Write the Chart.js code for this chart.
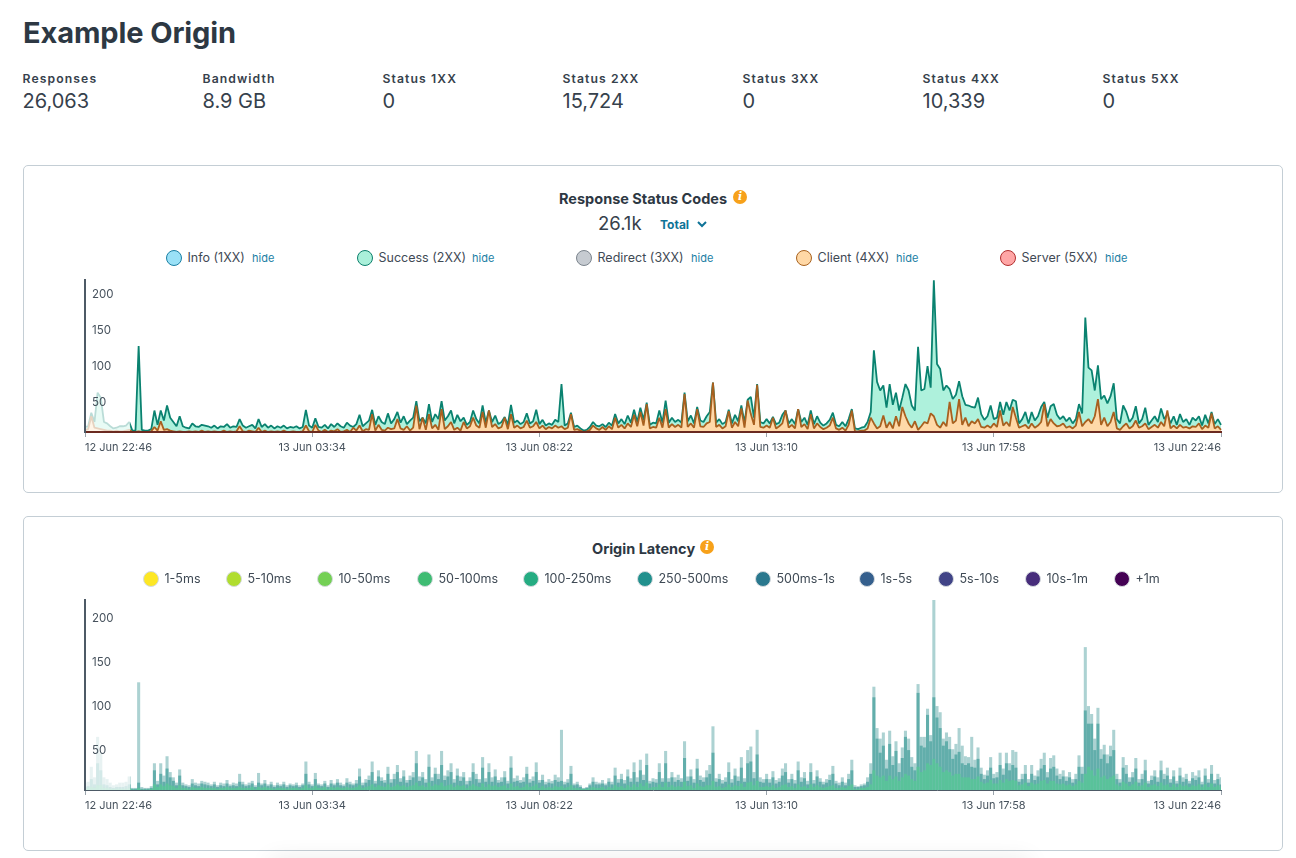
<!DOCTYPE html>
<html>
<head>
<meta charset="utf-8">
<title>Example Origin</title>
<script src="https://cdn.jsdelivr.net/npm/chart.js@4"></script>
<style>
  html, body { margin: 0; padding: 0; background: #fff; overflow: hidden; }
  body { width: 1296px; height: 858px; position: relative; font-family: Inter, "Noto Sans", sans-serif; color: #2d3843; }
  .abs { position: absolute; white-space: nowrap; transform: translateY(-50%); }
  .card { position: absolute; left: 23px; width: 1258px; border: 1px solid #c4ced5; border-radius: 5px; box-sizing: content-box; }
  .statLabel { font-size: 12.2px; font-weight: 600; letter-spacing: 1.1px; color: #36414c; }
  .statValue { font-size: 20px; color: #36414c; }
  .chartTitle { font-size: 14.5px; font-weight: 700; color: #2d3843; }
  .legendText { font-size: 12.5px; color: #3f4a55; }
  .hide { font-size: 11px; color: #1b7ea4; }
  .dot { position: absolute; width: 14px; height: 14px; border-radius: 50%; border: 1px solid; transform: translate(-50%, -50%); }
  .info { position: absolute; width: 14px; height: 14px; border-radius: 50%; background: #f7a11a; color: #fff; font: italic 700 11px/14px "DejaVu Serif", serif; text-align: center; transform: translate(-50%, -50%); }
  canvas { position: absolute; }
</style>
</head>
<body>
<div class="abs" style="left:23px;top:31.5px;font-size:29px;font-weight:700;color:#2d3843;letter-spacing:-0.1px">Example Origin</div>

<div class="card" style="top:165px;height:326px"></div>
<div class="card" style="top:515.5px;height:333px"></div>

<div class="abs chartTitle" style="left:559px;top:197.5px">Response Status Codes</div>
<div class="info" style="left:740px;top:197px">i</div>
<div class="abs" style="left:598px;top:223px;font-size:18.5px;color:#36414c">26.1k</div>
<div class="abs" style="left:660px;top:224px;font-size:12px;font-weight:700;color:#0f7397">Total</div>
<svg style="position:absolute;left:696px;top:220px" width="12" height="9"><path d="M2 2 L6 6 L10 2" fill="none" stroke="#0f7397" stroke-width="2"/></svg>

<div class="abs chartTitle" style="left:592px;top:548px">Origin Latency</div>
<div class="info" style="left:707px;top:547px">i</div>

<canvas id="statusChart" width="1200" height="204" style="left:60px;top:266px;width:1200px;height:204px"></canvas>
<canvas id="latencyChart" width="1200" height="242" style="left:60px;top:586px;width:1200px;height:242px"></canvas>

<div style="position:absolute;left:270px;top:862px;width:760px;height:10px;box-shadow:0 0 24px rgba(0,0,0,.14)"></div>

<script>
// header numbers
const statLabels = ['Responses', 'Bandwidth', 'Status 1XX', 'Status 2XX', 'Status 3XX', 'Status 4XX', 'Status 5XX'];
const statValues = ['26,063', '8.9 GB', '0', '15,724', '0', '10,339', '0'];

// legends
const statusNames = ['Info (1XX)', 'Success (2XX)', 'Redirect (3XX)', 'Client (4XX)', 'Server (5XX)'];
const latencyNames = ['1-5ms', '5-10ms', '10-50ms', '50-100ms', '100-250ms', '250-500ms', '500ms-1s', '1s-5s', '5s-10s', '10s-1m', '+1m'];

// axis ticks
const timeTicks = ['12 Jun 22:46', '13 Jun 03:34', '13 Jun 08:22', '13 Jun 13:10', '13 Jun 17:58', '13 Jun 22:46'];
const yTicks = [50, 100, 150, 200];

// responses per 4 minute bucket
const success2xx = [
  7,8,27,14,55,48,14,12,8,5,
  6,8,8,9,14,2,2,120,3,2,
  2,4,30,10,30,16,37,20,14,8,
  22,8,6,5,12,8,7,10,9,8,
  6,9,5,8,7,11,6,8,7,18,
  9,6,8,10,5,18,7,11,6,9,
  5,8,6,9,5,7,6,8,5,7,
  31,9,6,19,7,6,10,5,11,7,
  12,8,6,13,9,7,11,24,8,12,
  16,31,10,22,14,11,26,12,18,28,
  13,22,11,16,20,43,15,20,12,39,
  14,25,18,43,16,22,30,12,24,15,
  20,10,14,30,18,12,37,13,30,14,
  23,11,14,21,10,38,13,16,11,14,
  26,12,15,31,11,17,9,12,10,17,
  14,67,9,12,27,7,9,5,2,3,
  7,14,9,8,11,7,13,9,25,12,
  18,11,23,13,31,14,34,17,41,10,
  13,12,30,13,44,13,20,14,17,13,
  55,15,23,12,35,16,14,22,28,69,
  13,18,11,14,31,12,24,15,37,13,
  45,49,20,67,14,12,18,12,21,11,
  13,24,30,12,18,11,32,14,20,10,
  30,11,22,13,9,12,17,27,10,8,
  14,8,18,32,5,4,6,7,14,28,
  114,70,58,65,34,67,38,55,30,48,
  67,58,37,30,119,58,60,92,62,212,
  95,88,58,65,60,46,52,71,50,38,
  37,35,34,48,25,17,22,37,18,20,
  42,24,42,30,45,43,12,18,28,12,
  28,16,22,35,42,20,36,39,24,18,
  22,15,20,12,18,39,26,160,90,86,
  58,93,46,51,40,50,68,18,12,37,
  28,14,20,36,12,18,34,10,16,22,
  14,33,18,25,12,22,10,25,14,18,
  10,20,16,22,9,24,12,28,11,18,
  10
];
const client4xx = [
  3,4,22,6,5,4,3,2,2,1,
  2,1,1,2,3,0,0,1,0,0,
  0,1,7,2,15,3,4,2,1,0,
  1,0,0,1,0,1,0,2,0,1,
  0,1,0,0,2,0,1,0,1,8,
  1,0,2,1,0,6,0,2,0,1,
  0,1,0,2,0,0,1,0,0,1,
  9,1,0,10,2,0,3,0,2,1,
  4,0,1,3,0,6,2,9,1,4,
  3,25,2,10,3,2,6,4,5,18,
  5,3,8,2,6,37,4,20,3,25,
  5,10,3,32,4,8,14,3,6,2,
  14,5,8,20,9,6,28,6,30,7,
  11,5,7,20,4,25,6,9,5,7,
  16,6,8,14,5,9,4,7,5,9,
  6,8,4,6,25,3,4,2,0,1,
  3,9,5,3,7,3,8,4,20,6,
  10,5,12,7,24,8,28,9,39,5,
  7,6,20,6,32,6,11,7,10,6,
  53,7,12,6,32,8,7,12,14,69,
  7,10,5,8,29,6,14,8,33,6,
  44,25,10,66,7,6,9,6,20,5,
  8,12,30,6,10,5,32,7,11,4,
  25,5,12,7,4,6,9,20,5,3,
  6,2,10,30,1,1,2,2,5,20,
  12,5,8,23,6,14,5,22,8,35,
  22,12,6,15,3,8,14,12,26,22,
  10,6,14,8,42,12,16,46,10,20,
  8,15,12,18,7,6,9,6,12,7,
  30,9,14,8,35,20,6,8,10,5,
  12,6,9,14,39,8,18,12,8,9,
  12,6,8,5,9,28,8,14,18,12,
  22,46,10,20,8,14,28,5,3,8,
  12,5,8,16,6,8,12,4,7,10,
  6,14,8,30,5,9,5,10,6,7,
  5,8,7,12,4,9,6,26,5,8,
  3
];

// latency buckets, drawn on top of each other
const latencySlow = [
  8,9,26,14,60,42,14,12,8,5,
  6,8,8,9,15,2,2,122,3,2,
  2,4,30,10,30,16,38,20,14,8,
  23,8,6,5,12,8,7,10,9,8,
  6,9,5,8,7,11,6,8,7,18,
  9,6,8,10,5,19,7,11,6,9,
  5,8,6,9,5,7,6,8,5,7,
  32,9,6,19,7,6,10,5,11,7,
  12,8,6,13,9,7,11,24,8,12,
  16,32,10,22,14,11,26,12,18,28,
  13,22,11,16,20,44,15,20,12,40,
  14,25,18,44,16,22,30,12,24,15,
  20,10,14,30,18,12,37,13,30,14,
  23,11,14,21,10,38,13,16,11,14,
  26,12,15,31,11,17,9,12,10,17,
  14,68,9,12,27,7,9,5,2,3,
  7,14,9,8,11,7,13,9,25,12,
  18,11,23,13,31,14,34,17,41,10,
  13,12,30,13,44,13,20,14,17,13,
  55,15,23,12,35,16,14,22,28,72,
  13,18,11,14,31,12,24,15,37,13,
  45,49,20,68,14,12,18,12,21,11,
  13,24,30,12,18,11,32,14,20,10,
  30,11,22,13,9,12,17,27,10,8,
  14,8,18,34,5,4,6,7,14,30,
  117,70,58,65,34,67,38,55,30,48,
  67,58,37,30,120,60,60,92,62,216,
  95,88,58,65,60,46,52,70,50,38,
  37,60,34,48,25,17,22,37,18,20,
  42,24,42,30,45,43,12,18,28,12,
  28,16,22,35,42,20,36,39,24,18,
  22,15,20,12,18,39,26,162,95,86,
  58,93,46,51,40,50,68,18,12,37,
  28,14,20,36,12,18,34,10,16,22,
  14,33,18,25,12,22,10,25,14,18,
  10,20,16,22,9,24,12,28,11,18,
  14
];
const latency250 = [
  3,4,12,6,30,22,6,5,3,2,
  3,3,3,4,6,1,1,8,1,1,
  1,2,22,6,18,9,24,14,10,5,
  16,5,4,3,7,5,4,7,6,5,
  4,6,3,5,4,7,4,5,4,9,
  6,4,5,7,3,8,5,7,4,6,
  3,5,4,6,3,5,4,5,3,5,
  18,6,4,12,5,4,7,3,7,5,
  8,5,4,8,6,5,7,15,5,8,
  11,20,7,15,10,8,18,8,12,20,
  9,15,8,11,14,30,10,14,8,26,
  10,18,12,28,11,15,20,8,16,10,
  14,6,10,20,12,8,25,9,20,9,
  15,8,9,14,7,25,9,10,8,9,
  18,8,10,20,8,11,6,8,7,11,
  9,10,6,8,18,5,6,3,1,2,
  5,9,6,6,7,5,9,6,16,8,
  12,7,15,9,20,9,22,11,28,7,
  9,8,20,9,30,9,14,9,11,9,
  36,10,15,8,24,11,9,14,18,42,
  9,12,7,9,20,8,16,10,25,9,
  30,32,13,40,9,8,12,8,14,7,
  9,16,20,8,12,7,22,9,13,6,
  20,7,15,9,6,8,11,18,7,5,
  9,5,12,22,3,3,4,5,9,18,
  105,58,42,50,24,52,28,44,20,36,
  60,45,26,22,110,50,48,85,55,105,
  82,70,50,55,46,35,40,43,30,28,
  30,26,25,35,18,12,16,25,13,14,
  28,17,30,22,28,25,9,12,18,8,
  18,11,15,24,28,14,24,26,16,12,
  15,10,14,8,12,26,18,90,75,75,
  45,75,35,40,30,38,45,12,8,25,
  18,9,14,24,8,12,22,7,11,15,
  9,22,12,16,8,15,7,16,9,12,
  7,13,11,14,6,16,8,18,7,12,
  6
];
const latency100 = [
  1,2,3,2,5,5,2,2,1,1,
  1,1,1,1,2,0,0,2,0,0,
  0,1,6,3,6,4,7,5,4,2,
  5,2,2,1,3,2,2,3,2,2,
  2,2,1,2,2,3,2,2,2,3,
  2,2,2,3,1,3,2,3,2,2,
  1,2,2,2,1,2,2,2,1,2,
  5,2,2,4,2,2,3,1,3,2,
  3,2,2,3,2,2,3,5,2,3,
  4,6,3,5,4,3,6,3,4,6,
  4,5,3,4,5,8,4,5,3,8,
  4,6,5,8,4,5,6,3,5,4,
  5,2,4,6,4,3,7,3,6,4,
  5,3,4,5,2,7,3,4,2,3,
  6,3,4,6,2,4,2,3,2,4,
  3,4,2,3,5,2,2,1,1,1,
  2,3,2,2,3,1,3,2,5,3,
  4,2,5,3,6,3,7,4,8,2,
  3,3,6,3,8,3,5,3,4,3,
  9,4,5,2,7,4,3,5,5,10,
  3,4,2,3,6,3,5,4,7,3,
  8,9,5,10,3,3,4,3,5,2,
  3,5,6,3,4,2,6,3,4,2,
  6,3,5,3,2,3,4,5,2,2,
  3,2,4,6,1,1,2,2,3,6,
  22,16,14,16,10,16,12,15,10,14,
  18,16,12,10,26,20,22,30,28,35,
  30,26,20,22,20,16,18,18,14,14,
  14,12,12,15,9,7,8,11,7,7,
  11,8,12,10,11,10,5,6,8,4,
  8,6,7,10,11,7,10,10,7,6,
  7,5,6,4,6,10,8,18,26,22,
  16,24,14,16,12,14,16,6,4,9,
  7,4,6,9,4,5,8,3,5,6,
  4,8,5,6,3,6,3,6,4,5,
  3,5,4,6,3,6,3,7,3,5,
  3
];

const buckets = success2xx.map((_, i) => i);
const BUCKETS_PER_TICK = 72;
const FADE_UNTIL = 14.3;

// ── header + legends as plain text ──
function addText(cls, left, top, text) {
    const el = document.createElement('div');
    el.className = 'abs ' + cls;
    el.style.left = left + 'px';
    el.style.top = top + 'px';
    el.textContent = text;
    document.body.appendChild(el);
}
function addDot(left, top, fill, border) {
    const el = document.createElement('div');
    el.className = 'dot';
    el.style.left = left + 'px';
    el.style.top = top + 'px';
    el.style.background = fill;
    el.style.borderColor = border;
    document.body.appendChild(el);
}

statLabels.forEach((label, i) => {
    addText('statLabel', 22.5 + i * 180, 78, label);
    addText('statValue', 22.5 + i * 180, 101, statValues[i]);
});

const statusDotX = [174, 365, 584, 804, 1008];
const statusHideX = [252, 472, 691, 896, 1105];
const statusFill = ['#9ae1f7', '#aaf0da', '#c6cbd1', '#ffd8a6', '#ffa6a6'];
const statusEdge = ['#1b7fa3', '#0c7f6c', '#7b848d', '#a8621f', '#b22f2f'];
statusNames.forEach((name, i) => {
    addDot(statusDotX[i], 258, statusFill[i], statusEdge[i]);
    addText('legendText', statusDotX[i] + 13.5, 257, name);
    addText('hide', statusHideX[i], 257.5, 'hide');
});

const latencyDotX = [151, 234, 325, 425, 531, 645, 763, 867, 946, 1033, 1122];
const latencyFill = ['#fde725', '#b0dd2f', '#74d055', '#3fbc73', '#25ac82', '#21908d', '#2a788e', '#355f8d', '#414487', '#472d7b', '#440154'];
latencyNames.forEach((name, i) => {
    addDot(latencyDotX[i], 578.5, latencyFill[i], '#d5dade');
    addText('legendText', latencyDotX[i] + 13.5, 578, name);
});

// ── first part of the range is washed out in the original ──
const fadePlugin = {
    id: 'fadeStart',
    afterDatasetsDraw(chart) {
        const { ctx, chartArea, scales } = chart;
        const right = scales.x.getPixelForValue(FADE_UNTIL);
        ctx.save();
        ctx.fillStyle = 'rgba(255,255,255,0.72)';
        ctx.fillRect(chartArea.left, chartArea.top, right - chartArea.left, chartArea.height);
        ctx.restore();
    }
};

function xScale(borderColor, borderWidth) {
    return {
        type: 'category',
        offset: false,
        afterBuildTicks: s => {
            s.ticks = timeTicks.map((_, i) => ({ value: i * BUCKETS_PER_TICK }));
        },
        afterFit: s => { s.height = 38; },
        ticks: {
            autoSkip: false,
            maxRotation: 0,
            align: 'inner',
            padding: 4,
            color: '#47525d',
            font: { family: 'Inter', size: 11 },
            callback: (value, index) => timeTicks[index]
        },
        grid: { display: true, offset: false, drawOnChartArea: false, drawTicks: true, tickLength: 5, tickColor: '#9aa3ab', tickWidth: 1 },
        border: { display: true, color: borderColor, width: borderWidth, z: 1 }
    };
}

function yScale(max, labelOffset) {
    return {
        min: 0,
        max,
        afterBuildTicks: s => { s.ticks = yTicks.map(v => ({ value: v })); },
        afterFit: s => { s.width = 0; },
        ticks: {
            mirror: true,
            padding: 7,
            labelOffset,
            z: 1,
            color: '#47525d',
            font: { family: 'Inter', size: 11.5 }
        },
        grid: { display: false },
        border: { display: true, color: '#4d5a66', width: 2, z: 1 }
    };
}

// ── Response Status Codes ──
new Chart(document.getElementById('statusChart').getContext('2d'), {
    type: 'line',
    data: {
        labels: buckets,
        datasets: [
            {
                label: 'Client (4XX)',
                data: client4xx,
                borderColor: '#a8601f',
                backgroundColor: '#ffd9a8',
                borderWidth: 1.8,
                borderJoinStyle: 'bevel',
                fill: 'origin',
                tension: 0,
                pointRadius: 0
            },
            {
                label: 'Success (2XX)',
                data: success2xx,
                borderColor: '#0a8270',
                backgroundColor: '#aef1dc',
                borderWidth: 1.8,
                borderJoinStyle: 'bevel',
                fill: 'origin',
                tension: 0,
                pointRadius: 0
            }
        ]
    },
    options: {
        responsive: false,
        animation: false,
        events: [],
        layout: { padding: { left: 25, right: 39, top: 0, bottom: 0 } },
        plugins: { legend: { display: false }, tooltip: { enabled: false } },
        scales: { x: xScale('#6b2a20', 2), y: yScale(212.5, 6) }
    },
    plugins: [fadePlugin]
});

// ── Origin Latency ──
const latencyBar = { barThickness: 2.4, grouped: false, borderWidth: 0 };
new Chart(document.getElementById('latencyChart').getContext('2d'), {
    type: 'bar',
    data: {
        labels: buckets,
        datasets: [
            { label: '100-250ms', data: latency100, backgroundColor: 'rgba(88,200,150,0.8)', ...latencyBar },
            { label: '250-500ms', data: latency250, backgroundColor: 'rgba(50,150,145,0.6)', ...latencyBar },
            { label: '500ms-1s', data: latencySlow, backgroundColor: 'rgba(70,155,155,0.45)', ...latencyBar }
        ]
    },
    options: {
        responsive: false,
        animation: false,
        events: [],
        layout: { padding: { left: 25, right: 39, top: 0, bottom: 0 } },
        plugins: { legend: { display: false }, tooltip: { enabled: false } },
        scales: { x: xScale('#4d5a66', 1), y: yScale(216, 5) }
    },
    plugins: [fadePlugin]
});
</script>
</body>
</html>
